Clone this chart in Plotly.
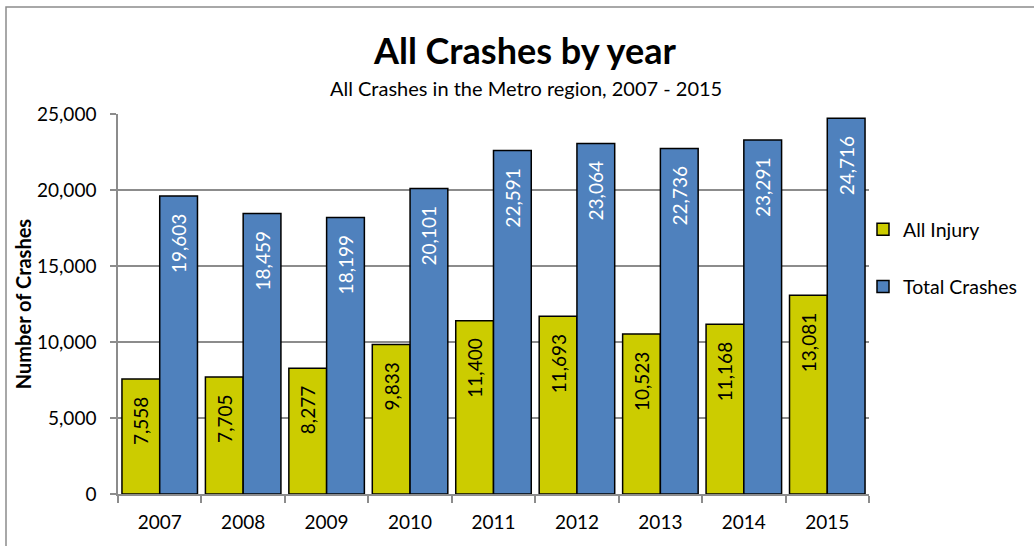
import plotly.graph_objects as go

years = ["2007", "2008", "2009", "2010", "2011", "2012", "2013", "2014", "2015"]
all_injury = [7558, 7705, 8277, 9833, 11400, 11693, 10523, 11168, 13081]
total_crashes = [19603, 18459, 18199, 20101, 22591, 23064, 22736, 23291, 24716]

FONT = "Lato"
W, H = 1034, 546
L, R, T, B = 118, 165, 114, 52
pw, ph = W - L - R, H - T - B
GRAY = "#8c8c8c"
PAD = "\u00a0" * 3

fig = go.Figure()
fig.add_trace(go.Bar(
    x=years, y=all_injury, name="All Injury", legendgroup="a",
    marker=dict(color="#CCCC00", line=dict(color="black", width=1.5)),
    text=[f"{v:,}{PAD}" for v in all_injury], textposition="inside",
    insidetextanchor="end", textangle=-90,
    insidetextfont=dict(family=FONT, size=19, color="black"),
))
fig.add_trace(go.Bar(
    x=years, y=total_crashes, name="Total Crashes", legendgroup="b",
    marker=dict(color="#4F81BD", line=dict(color="black", width=1.5)),
    text=[f"{v:,}{PAD}" for v in total_crashes], textposition="inside",
    insidetextanchor="end", textangle=-90,
    insidetextfont=dict(family=FONT, size=19, color="white"),
))

def px_x(p):
    return (p - L) / pw

def px_y(p):
    return (H - B - p) / ph

fig.update_layout(
    width=W, height=H,
    margin=dict(l=L, r=R, t=T, b=B, autoexpand=False),
    paper_bgcolor="white", plot_bgcolor="white",
    font=dict(family=FONT, size=19, color="black"),
    barmode="group", bargap=0.095, bargroupgap=0,
    showlegend=True,
    legend=dict(x=px_x(863), y=px_y(210), xanchor="left", yanchor="top",
                font=dict(family=FONT, size=19.5, color="black"),
                traceorder="grouped", tracegroupgap=29,
                bgcolor="rgba(0,0,0,0)"),
    xaxis=dict(type="category", showline=True, linecolor=GRAY, linewidth=1.5,
               ticks="outside", tickson="boundaries", ticklen=7, tickcolor=GRAY,
               tickwidth=1.5, showgrid=False, ticklabelstandoff=10,
               tickfont=dict(family=FONT, size=19, color="black")),
    yaxis=dict(range=[0, 25000], dtick=5000, tickformat=",",
               showline=True, linecolor=GRAY, linewidth=1.5,
               ticks="outside", ticklen=6, tickcolor=GRAY, tickwidth=1.5,
               showgrid=True, gridcolor=GRAY, gridwidth=1.5,
               tickfont=dict(family=FONT, size=19, color="black"),
               ticklabelstandoff=10,
               title=dict(text="<b>Number of Crashes</b>", standoff=0,
                          font=dict(family=FONT, size=20, color="black"))),
    shapes=[dict(type="rect", xref="paper", yref="paper",
                 x0=px_x(6), x1=px_x(1045), y0=px_y(560), y1=px_y(7),
                 line=dict(color=GRAY, width=1.5), layer="below")],
    annotations=[
        dict(text="<b>All Crashes by year</b>", xref="paper", yref="paper",
             x=px_x(525), y=px_y(50), xanchor="center", yanchor="middle",
             showarrow=False, font=dict(family=FONT, size=36, color="black")),
        dict(text="All Crashes in the Metro region, 2007 - 2015", xref="paper", yref="paper",
             x=px_x(526), y=px_y(88), xanchor="center", yanchor="middle",
             showarrow=False, font=dict(family=FONT, size=20, color="black")),
    ],
)

fig.write_html("out.html", config={"displayModeBar": False},
               post_script="document.body.style.margin='0';document.body.style.overflow='hidden';")
